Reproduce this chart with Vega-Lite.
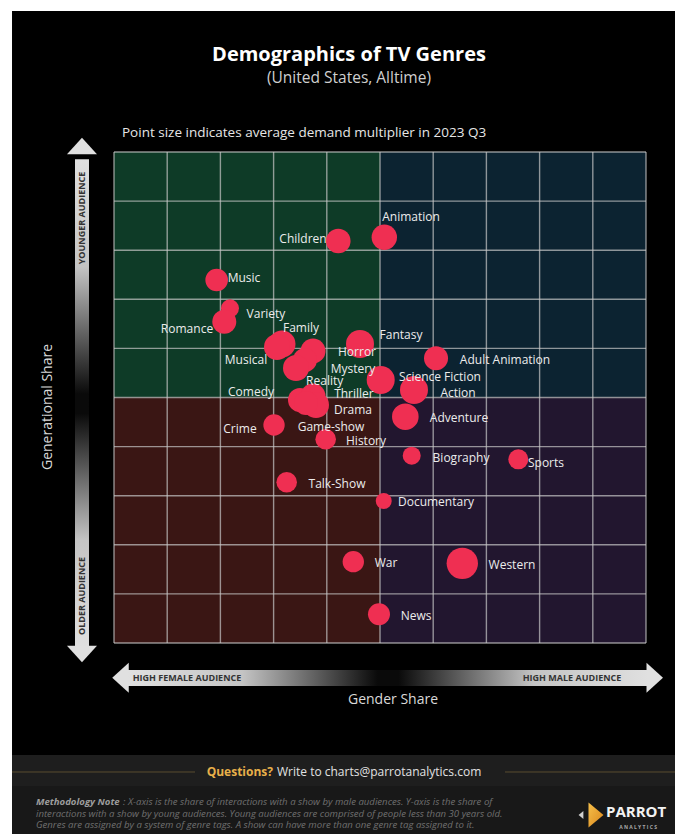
{
  "$schema": "https://vega.github.io/schema/vega-lite/v6.json",
  "autosize": {"type": "none"},
  "width": 532,
  "height": 491,
  "padding": {"left": 114, "top": 152, "right": 29, "bottom": 191},
  "background": "white",
  "config": {"view": {"stroke": null}, "font": "Open Sans"},
  "datasets": {
    "genres": [
      {"genre": "Animation", "gender": 5.081, "generation": 8.263, "demand": 1.61, "lx": 5.583, "ly": 8.676},
      {"genre": "Children", "gender": 4.216, "generation": 8.187, "demand": 1.51, "lx": 3.553, "ly": 8.228},
      {"genre": "Music", "gender": 1.930, "generation": 7.393, "demand": 1.28, "lx": 2.444, "ly": 7.434},
      {"genre": "Variety", "gender": 2.180, "generation": 6.817, "demand": 0.81, "lx": 2.857, "ly": 6.701},
      {"genre": "Romance", "gender": 2.073, "generation": 6.544, "demand": 1.44, "lx": 1.372, "ly": 6.395},
      {"genre": "Family", "gender": 3.158, "generation": 6.090, "demand": 1.82, "lx": 3.515, "ly": 6.415},
      {"genre": "Musical", "gender": 3.064, "generation": 6.029, "demand": 1.69, "lx": 2.481, "ly": 5.764},
      {"genre": "Horror", "gender": 3.741, "generation": 5.947, "demand": 1.56, "lx": 4.568, "ly": 5.93},
      {"genre": "Mystery", "gender": 3.590, "generation": 5.764, "demand": 1.44, "lx": 4.492, "ly": 5.58},
      {"genre": "Reality", "gender": 3.421, "generation": 5.601, "demand": 1.69, "lx": 3.96, "ly": 5.34},
      {"genre": "Fantasy", "gender": 4.624, "generation": 6.090, "demand": 1.96, "lx": 5.395, "ly": 6.273},
      {"genre": "Adult Animation", "gender": 6.053, "generation": 5.798, "demand": 1.44, "lx": 7.350, "ly": 5.764},
      {"genre": "Science Fiction", "gender": 5.013, "generation": 5.356, "demand": 1.96, "lx": 6.128, "ly": 5.418},
      {"genre": "Action", "gender": 5.639, "generation": 5.153, "demand": 1.96, "lx": 6.466, "ly": 5.092},
      {"genre": "Comedy", "gender": 3.496, "generation": 4.949, "demand": 1.44, "lx": 2.575, "ly": 5.112},
      {"genre": "Thriller", "gender": 3.741, "generation": 5.031, "demand": 1.56, "lx": 4.51, "ly": 5.07},
      {"genre": "Drama", "gender": 3.797, "generation": 4.847, "demand": 1.69, "lx": 4.492, "ly": 4.745},
      {"genre": "Game-show", "gender": 3.609, "generation": 4.888, "demand": 1.44, "lx": 4.079, "ly": 4.399},
      {"genre": "Adventure", "gender": 5.476, "generation": 4.609, "demand": 1.77, "lx": 6.485, "ly": 4.582},
      {"genre": "Crime", "gender": 3.008, "generation": 4.440, "demand": 1.14, "lx": 2.368, "ly": 4.358},
      {"genre": "History", "gender": 3.979, "generation": 4.149, "demand": 1.06, "lx": 4.737, "ly": 4.114},
      {"genre": "Biography", "gender": 5.596, "generation": 3.815, "demand": 0.81, "lx": 6.523, "ly": 3.768},
      {"genre": "Sports", "gender": 7.600, "generation": 3.741, "demand": 1.00, "lx": 8.120, "ly": 3.666},
      {"genre": "Talk-Show", "gender": 3.246, "generation": 3.273, "demand": 1.06, "lx": 4.192, "ly": 3.238},
      {"genre": "Documentary", "gender": 5.070, "generation": 2.892, "demand": 0.64, "lx": 6.053, "ly": 2.872},
      {"genre": "War", "gender": 4.498, "generation": 1.656, "demand": 1.14, "lx": 5.113, "ly": 1.629},
      {"genre": "Western", "gender": 6.547, "generation": 1.623, "demand": 2.46, "lx": 7.481, "ly": 1.589},
      {"genre": "News", "gender": 4.981, "generation": 0.585, "demand": 1.21, "lx": 5.677, "ly": 0.550}
    ],
    "one": [{}],
    "quadrants": [
      {"quadrant": "younger-female", "x0": 0, "x1": 5, "y0": 5, "y1": 10},
      {"quadrant": "younger-male", "x0": 5, "x1": 10, "y0": 5, "y1": 10},
      {"quadrant": "older-female", "x0": 0, "x1": 5, "y0": 0, "y1": 5},
      {"quadrant": "older-male", "x0": 5, "x1": 10, "y0": 0, "y1": 5}
    ],
    "grid": [{"v": 0}, {"v": 1}, {"v": 2}, {"v": 3}, {"v": 4}, {"v": 5}, {"v": 6}, {"v": 7}, {"v": 8}, {"v": 9}, {"v": 10}]
  },
  "data": {"name": "genres"},
  "layer": [
    {
      "data": {"name": "one"},
      "mark": {"type": "rect", "color": "#000000", "clip": false},
      "encoding": {
        "x": {"datum": -1.917, "type": "quantitative", "axis": null, "scale": {"domain": [0, 10], "nice": false, "zero": false}},
        "x2": {"datum": 10.8},
        "y": {"datum": 12.872, "type": "quantitative", "axis": null, "scale": {"domain": [0, 10], "nice": false, "zero": false}},
        "y2": {"datum": -4.5}
      }
    },
    {
      "data": {"name": "one"},
      "mark": {"type": "rect", "color": "#1e1e1e", "clip": false},
      "encoding": {
        "x": {"datum": -1.917, "type": "quantitative", "axis": null},
        "x2": {"datum": 10.8},
        "y": {"datum": -2.281, "type": "quantitative", "axis": null},
        "y2": {"datum": -2.912}
      }
    },
    {
      "data": {"name": "one"},
      "mark": {"type": "rect", "color": "#181818", "clip": false},
      "encoding": {
        "x": {"datum": -1.917, "type": "quantitative", "axis": null},
        "x2": {"datum": 10.8},
        "y": {"datum": -2.912, "type": "quantitative", "axis": null},
        "y2": {"datum": -4.5}
      }
    },
    {
      "data": {"name": "one"},
      "mark": {"type": "rule", "color": "#5a4c30", "strokeWidth": 1, "clip": false},
      "encoding": {
        "x": {"datum": -1.917, "type": "quantitative", "axis": null},
        "x2": {"datum": 1.523},
        "y": {"datum": -2.627, "type": "quantitative", "axis": null}
      }
    },
    {
      "data": {"name": "one"},
      "mark": {"type": "rule", "color": "#5a4c30", "strokeWidth": 1, "clip": false},
      "encoding": {
        "x": {"datum": 7.35, "type": "quantitative", "axis": null},
        "x2": {"datum": 10.8},
        "y": {"datum": -2.627, "type": "quantitative", "axis": null}
      }
    },
    {
      "data": {"name": "quadrants"},
      "mark": {"type": "rect", "clip": false},
      "encoding": {
        "x": {"field": "x0", "type": "quantitative", "axis": null},
        "x2": {"field": "x1"},
        "y": {"field": "y0", "type": "quantitative", "axis": null},
        "y2": {"field": "y1"},
        "color": {
          "field": "quadrant",
          "type": "nominal",
          "scale": {
            "domain": ["younger-female", "younger-male", "older-female", "older-male"],
            "range": ["#0e3b27", "#0c2331", "#3a1614", "#22162f"]
          },
          "legend": null
        }
      }
    },
    {
      "data": {"name": "grid"},
      "mark": {"type": "rule", "color": "#c8c8c8", "opacity": 0.7, "strokeWidth": 1.4},
      "encoding": {"x": {"field": "v", "type": "quantitative", "axis": null}}
    },
    {
      "data": {"name": "grid"},
      "mark": {"type": "rule", "color": "#c8c8c8", "opacity": 0.7, "strokeWidth": 1.4},
      "encoding": {"y": {"field": "v", "type": "quantitative", "axis": null}}
    },
    {
      "mark": {"type": "circle", "color": "#ef2f52", "opacity": 1, "clip": false},
      "encoding": {
        "x": {"field": "gender", "type": "quantitative", "title": "Gender Share", "axis": null},
        "y": {"field": "generation", "type": "quantitative", "title": "Generational Share", "axis": null},
        "size": {"field": "demand", "type": "quantitative", "title": "Average demand multiplier (2023 Q3)", "scale": {"type": "linear", "domain": [0, 2.5], "range": [0, 1000], "zero": true}, "legend": null}
      }
    },
    {
      "mark": {"type": "text", "color": "#ececec", "fontSize": 12, "font": "Open Sans", "align": "center", "baseline": "middle", "clip": false},
      "encoding": {
        "x": {"field": "lx", "type": "quantitative", "axis": null},
        "y": {"field": "ly", "type": "quantitative", "axis": null},
        "text": {"field": "genre"}
      }
    },
    {
      "data": {"name": "one"},
      "mark": {"type": "text", "text": "Generational Share", "angle": 270, "color": "#d9d9d9", "fontSize": 14, "font": "Open Sans", "align": "center", "baseline": "middle", "clip": false},
      "encoding": {
        "x": {"datum": -1.241, "type": "quantitative", "axis": null},
        "y": {"datum": 4.807, "type": "quantitative", "axis": null}
      }
    },
    {
      "data": {"name": "one"},
      "mark": {"type": "text", "text": "Gender Share", "color": "#d9d9d9", "fontSize": 14, "font": "Open Sans", "align": "center", "baseline": "middle", "clip": false},
      "encoding": {
        "x": {"datum": 5.244, "type": "quantitative", "axis": null},
        "y": {"datum": -1.161, "type": "quantitative", "axis": null}
      }
    },
    {
      "data": {"name": "one"},
      "mark": {"type": "rect", "clip": false,
               "color": {"gradient": "linear", "x1": 0, "y1": 0, "x2": 0, "y2": 1,
                         "stops": [{"offset": 0, "color": "#e0e0e0"}, {"offset": 0.22, "color": "#c4c4c4"}, {"offset": 0.48, "color": "#0a0a0a"}, {"offset": 0.52, "color": "#0a0a0a"}, {"offset": 0.78, "color": "#c4c4c4"}, {"offset": 1, "color": "#e0e0e0"}]}},
      "encoding": {
        "x": {"datum": -0.733, "type": "quantitative", "axis": null},
        "x2": {"datum": -0.47},
        "y": {"datum": 9.85, "type": "quantitative", "axis": null},
        "y2": {"datum": -0.1}
      }
    },
    {
      "data": {"name": "one"},
      "mark": {"type": "point", "filled": true, "opacity": 1, "color": "#e0e0e0", "size": 900, "shape": "M0,-0.55L1,0.55L-1,0.55Z", "clip": false},
      "encoding": {
        "x": {"datum": -0.602, "type": "quantitative", "axis": null},
        "y": {"datum": 10.122, "type": "quantitative", "axis": null}
      }
    },
    {
      "data": {"name": "one"},
      "mark": {"type": "point", "filled": true, "opacity": 1, "color": "#e0e0e0", "size": 900, "shape": "M0,0.55L1,-0.55L-1,-0.55Z", "clip": false},
      "encoding": {
        "x": {"datum": -0.602, "type": "quantitative", "axis": null},
        "y": {"datum": -0.224, "type": "quantitative", "axis": null}
      }
    },
    {
      "data": {"name": "one"},
      "mark": {"type": "rect", "clip": false,
               "color": {"gradient": "linear", "x1": 0, "y1": 0, "x2": 1, "y2": 0,
                         "stops": [{"offset": 0, "color": "#e0e0e0"}, {"offset": 0.22, "color": "#c4c4c4"}, {"offset": 0.48, "color": "#0a0a0a"}, {"offset": 0.52, "color": "#0a0a0a"}, {"offset": 0.78, "color": "#c4c4c4"}, {"offset": 1, "color": "#e0e0e0"}]}},
      "encoding": {
        "x": {"datum": 0.263, "type": "quantitative", "axis": null},
        "x2": {"datum": 10.04},
        "y": {"datum": -0.55, "type": "quantitative", "axis": null},
        "y2": {"datum": -0.876}
      }
    },
    {
      "data": {"name": "one"},
      "mark": {"type": "point", "filled": true, "opacity": 1, "color": "#e0e0e0", "size": 900, "shape": "M-0.55,0L0.55,-1L0.55,1Z", "clip": false},
      "encoding": {
        "x": {"datum": 0.122, "type": "quantitative", "axis": null},
        "y": {"datum": -0.707, "type": "quantitative", "axis": null}
      }
    },
    {
      "data": {"name": "one"},
      "mark": {"type": "point", "filled": true, "opacity": 1, "color": "#e0e0e0", "size": 900, "shape": "M0.55,0L-0.55,-1L-0.55,1Z", "clip": false},
      "encoding": {
        "x": {"datum": 10.164, "type": "quantitative", "axis": null},
        "y": {"datum": -0.707, "type": "quantitative", "axis": null}
      }
    },
    {
      "data": {"name": "one"},
      "mark": {"type": "text", "text": "YOUNGER AUDIENCE", "angle": 270, "color": "#333333", "fontSize": 9, "fontWeight": "bold", "font": "Open Sans", "align": "center", "baseline": "middle", "clip": false},
      "encoding": {
        "x": {"datum": -0.602, "type": "quantitative", "axis": null},
        "y": {"datum": 8.656, "type": "quantitative", "axis": null}
      }
    },
    {
      "data": {"name": "one"},
      "mark": {"type": "text", "text": "OLDER AUDIENCE", "angle": 270, "color": "#333333", "fontSize": 9, "fontWeight": "bold", "font": "Open Sans", "align": "center", "baseline": "middle", "clip": false},
      "encoding": {
        "x": {"datum": -0.602, "type": "quantitative", "axis": null},
        "y": {"datum": 0.957, "type": "quantitative", "axis": null}
      }
    },
    {
      "data": {"name": "one"},
      "mark": {"type": "text", "text": "HIGH FEMALE AUDIENCE", "color": "#333333", "fontSize": 9, "fontWeight": "bold", "font": "Open Sans", "align": "center", "baseline": "middle", "clip": false},
      "encoding": {
        "x": {"datum": 1.372, "type": "quantitative", "axis": null},
        "y": {"datum": -0.713, "type": "quantitative", "axis": null}
      }
    },
    {
      "data": {"name": "one"},
      "mark": {"type": "text", "text": "HIGH MALE AUDIENCE", "color": "#333333", "fontSize": 9, "fontWeight": "bold", "font": "Open Sans", "align": "center", "baseline": "middle", "clip": false},
      "encoding": {
        "x": {"datum": 8.609, "type": "quantitative", "axis": null},
        "y": {"datum": -0.713, "type": "quantitative", "axis": null}
      }
    },
    {
      "data": {"name": "one"},
      "mark": {"type": "text", "text": "Demographics of TV Genres", "color": "#ffffff", "fontSize": 20, "fontWeight": "bold", "font": "Open Sans", "align": "center", "baseline": "middle", "clip": false},
      "encoding": {
        "x": {"datum": 4.417, "type": "quantitative", "axis": null},
        "y": {"datum": 11.976, "type": "quantitative", "axis": null}
      }
    },
    {
      "data": {"name": "one"},
      "mark": {"type": "text", "text": "(United States, Alltime)", "color": "#cfcfcf", "fontSize": 15.5, "font": "Open Sans", "align": "center", "baseline": "middle", "clip": false},
      "encoding": {
        "x": {"datum": 4.417, "type": "quantitative", "axis": null},
        "y": {"datum": 11.507, "type": "quantitative", "axis": null}
      }
    },
    {
      "data": {"name": "one"},
      "mark": {"type": "text", "text": "Point size indicates average demand multiplier in 2023 Q3", "color": "#e6e6e6", "fontSize": 13.5, "font": "Open Sans", "align": "left", "baseline": "middle", "clip": false},
      "encoding": {
        "x": {"datum": 0.15, "type": "quantitative", "axis": null},
        "y": {"datum": 10.387, "type": "quantitative", "axis": null}
      }
    },
    {
      "data": {"name": "one"},
      "mark": {"type": "text", "text": "Questions?", "color": "#e8b04a", "fontSize": 12, "fontWeight": "bold", "font": "Open Sans", "align": "right", "baseline": "middle", "clip": false},
      "encoding": {
        "x": {"datum": 2.989, "type": "quantitative", "axis": null},
        "y": {"datum": -2.627, "type": "quantitative", "axis": null}
      }
    },
    {
      "data": {"name": "one"},
      "mark": {"type": "text", "text": "Write to charts@parrotanalytics.com", "color": "#e2e2e2", "fontSize": 12, "font": "Open Sans", "align": "left", "baseline": "middle", "clip": false},
      "encoding": {
        "x": {"datum": 3.064, "type": "quantitative", "axis": null},
        "y": {"datum": -2.627, "type": "quantitative", "axis": null}
      }
    },
    {
      "data": {"name": "one"},
      "mark": {"type": "text", "text": "Methodology Note", "color": "#9d9d9d", "fontSize": 9.6, "fontWeight": "bold", "fontStyle": "italic", "font": "Open Sans", "align": "left", "baseline": "middle", "clip": false},
      "encoding": {
        "x": {"datum": -1.466, "type": "quantitative", "axis": null},
        "y": {"datum": -3.238, "type": "quantitative", "axis": null}
      }
    },
    {
      "data": {"name": "one"},
      "mark": {"type": "text", "text": ": X-axis is the share of interactions with a show by male audiences. Y-axis is the share of", "color": "#707070", "fontSize": 9.6, "fontStyle": "italic", "font": "Open Sans", "align": "left", "baseline": "middle", "clip": false},
      "encoding": {
        "x": {"datum": 0.17, "type": "quantitative", "axis": null},
        "y": {"datum": -3.238, "type": "quantitative", "axis": null}
      }
    },
    {
      "data": {"name": "one"},
      "mark": {"type": "text", "text": "interactions with a show by young audiences. Young audiences are comprised of people less than 30 years old.", "color": "#707070", "fontSize": 9.6, "fontStyle": "italic", "font": "Open Sans", "align": "left", "baseline": "middle", "clip": false},
      "encoding": {
        "x": {"datum": -1.466, "type": "quantitative", "axis": null},
        "y": {"datum": -3.473, "type": "quantitative", "axis": null}
      }
    },
    {
      "data": {"name": "one"},
      "mark": {"type": "text", "text": "Genres are assigned by a system of genre tags. A show can have more than one genre tag assigned to it.", "color": "#707070", "fontSize": 9.6, "fontStyle": "italic", "font": "Open Sans", "align": "left", "baseline": "middle", "clip": false},
      "encoding": {
        "x": {"datum": -1.466, "type": "quantitative", "axis": null},
        "y": {"datum": -3.707, "type": "quantitative", "axis": null}
      }
    },
    {
      "data": {"name": "one"},
      "mark": {"type": "point", "filled": true, "opacity": 1, "color": "#d0d0d0", "size": 64, "shape": "M0.6,-1L-0.6,0L0.6,1Z", "clip": false},
      "encoding": {
        "x": {"datum": 8.778, "type": "quantitative", "axis": null},
        "y": {"datum": -3.503, "type": "quantitative", "axis": null}
      }
    },
    {
      "data": {"name": "one"},
      "mark": {"type": "point", "filled": true, "opacity": 1, "size": 625, "shape": "M-0.6,-1L0.6,0L-0.6,1Z", "clip": false,
               "color": {"gradient": "linear", "x1": 0, "y1": 0, "x2": 1, "y2": 1, "stops": [{"offset": 0, "color": "#f7c04a"}, {"offset": 1, "color": "#d9861c"}]}},
      "encoding": {
        "x": {"datum": 9.06, "type": "quantitative", "axis": null},
        "y": {"datum": -3.503, "type": "quantitative", "axis": null}
      }
    },
    {
      "data": {"name": "one"},
      "mark": {"type": "text", "text": "PARROT", "color": "#f2f2f2", "fontSize": 15, "fontWeight": "bold", "font": "Open Sans", "align": "left", "baseline": "middle", "clip": false},
      "encoding": {
        "x": {"datum": 9.248, "type": "quantitative", "axis": null},
        "y": {"datum": -3.44, "type": "quantitative", "axis": null}
      }
    },
    {
      "data": {"name": "one"},
      "mark": {"type": "text", "text": "A N A L Y T I C S", "color": "#a8a8a8", "fontSize": 5, "fontWeight": "bold", "font": "Open Sans", "align": "center", "baseline": "middle", "clip": false},
      "encoding": {
        "x": {"datum": 9.85, "type": "quantitative", "axis": null},
        "y": {"datum": -3.747, "type": "quantitative", "axis": null}
      }
    }
  ]
}
